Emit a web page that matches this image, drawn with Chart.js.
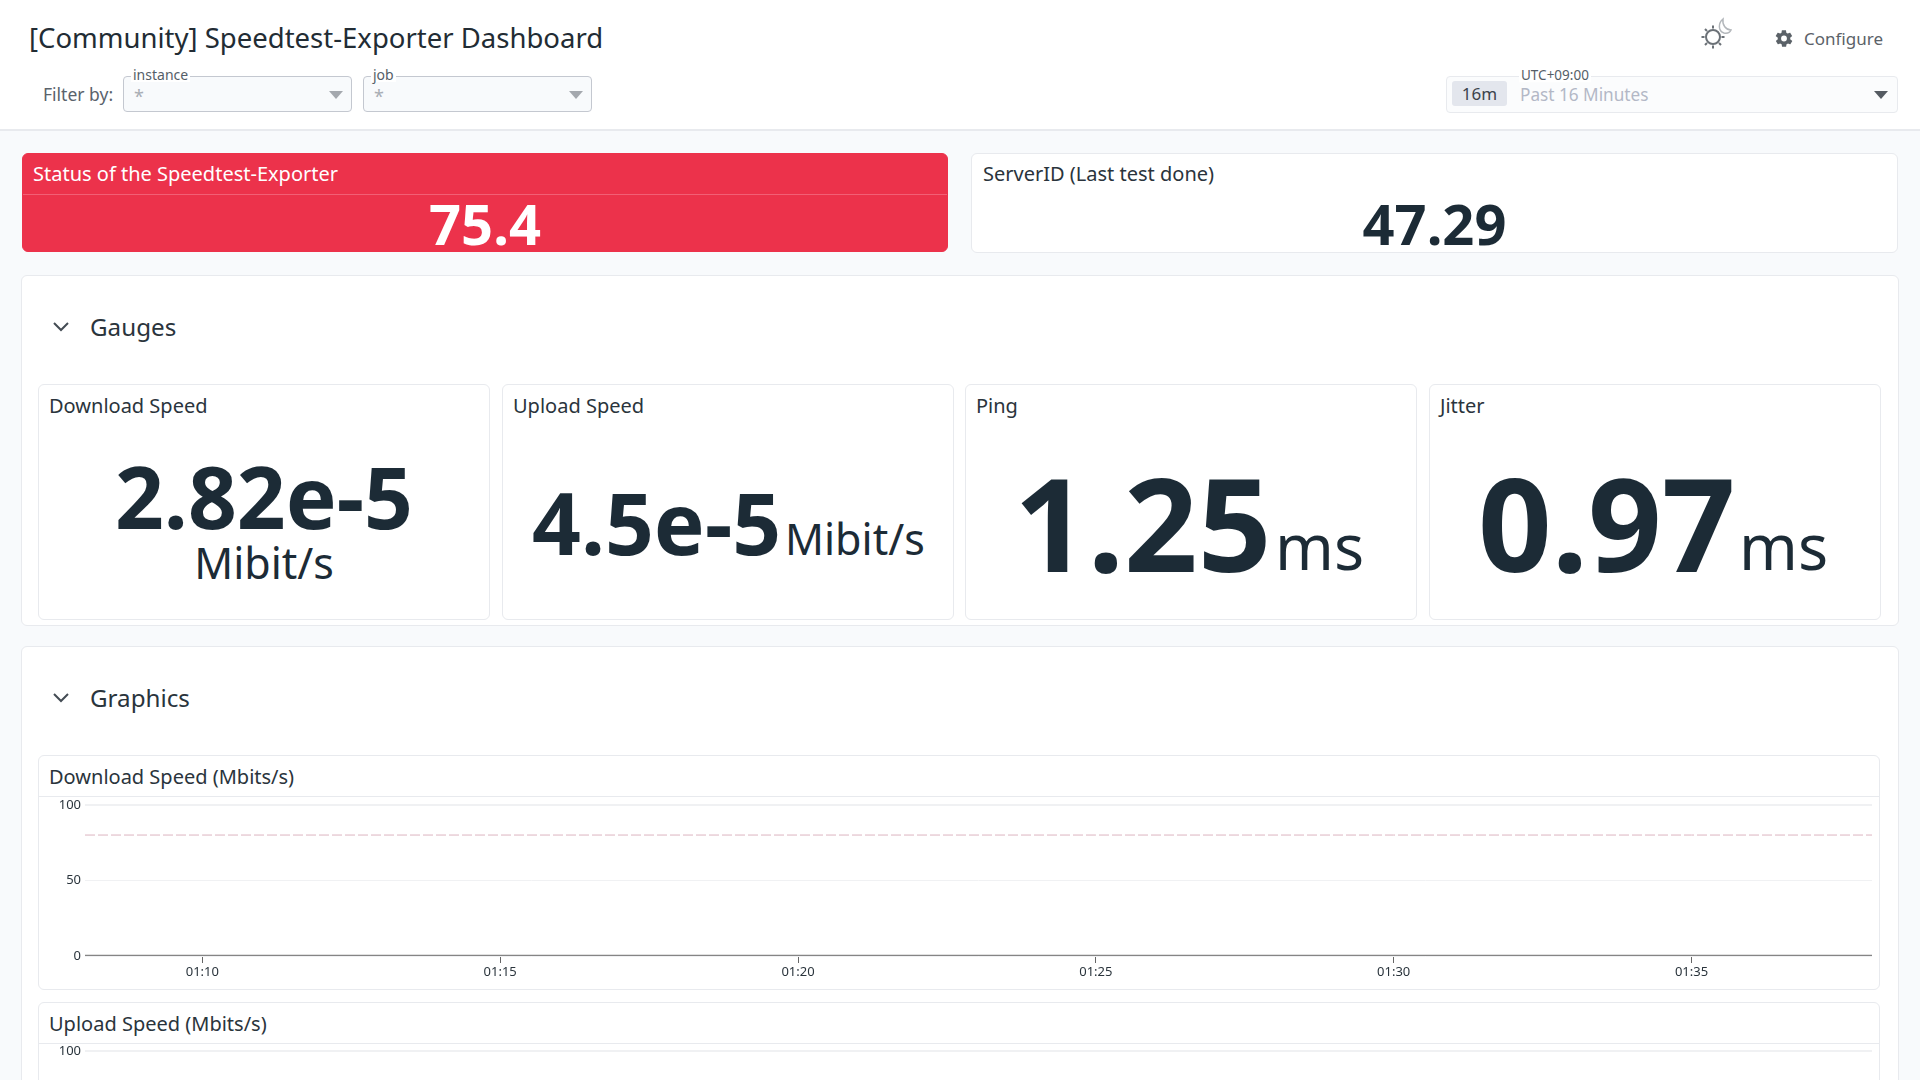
<!DOCTYPE html>
<html><head><meta charset="utf-8">
<script src="https://cdn.jsdelivr.net/npm/chart.js@4"></script>
<style>
*{box-sizing:border-box}
html,body{margin:0;padding:0;width:1920px;height:1080px;overflow:hidden;background:#f8fafc;font-family:"Noto Sans",sans-serif;color:#1c2b36}
.a{position:absolute;white-space:nowrap}
.c{transform:translateY(-50%);line-height:1}
.panel{position:absolute;background:#fff;border:1px solid #e8eaee;border-radius:6px}
.sel{position:absolute;border:1px solid #c4c8d0;border-radius:4px;background:#f8fafc}
.lab{background:#fff;padding:0 2px;font-size:14px;color:#555e68}
.caret{position:absolute;width:0;height:0;border-left:7px solid transparent;border-right:7px solid transparent;border-top:8px solid #a4a8ae}
.b{font-weight:700}
.ttl{font-size:20px;color:#2a343c}
.rule{position:absolute;height:1px;background:#e8eaee}
</style></head><body>
<div class="a" style="left:0;top:0;width:1920px;height:131px;background:#fff;border-bottom:2px solid #e8eaee"></div>
<div class="a c" id="title" style="left:29px;top:38px;font-size:27.500px;color:#222c34">[Community] Speedtest-Exporter Dashboard</div>
<div class="a c" style="left:43px;top:95px;font-size:17.500px;color:#5a636c">Filter by:</div>
<div class="sel" style="left:123px;top:76px;width:229px;height:36px"></div>
<div class="a c lab" style="left:131px;top:75px">instance</div>
<div class="a c" style="left:134px;top:96px;font-size:18px;color:#a8adb4">*</div>
<div class="caret" style="left:329px;top:91px"></div>
<div class="sel" style="left:363px;top:76px;width:229px;height:36px"></div>
<div class="a c lab" style="left:371px;top:75px">job</div>
<div class="a c" style="left:374px;top:96px;font-size:18px;color:#a8adb4">*</div>
<div class="caret" style="left:569px;top:91px"></div>

<svg class="a" style="left:1695px;top:15px" width="40" height="38" viewBox="0 0 40 38" fill="none" stroke="#6b7177" stroke-width="2">
<circle cx="18" cy="22" r="7"/><path d="M18 10.500v3M18 30.500v3M6.500 22h3M26.500 22h3M10 14l2 2M24 28l2 2M10 30l2-2"/>
<path d="M28 4C23 8 23 16 29 18C32 18.500 35 17.500 36 15C31 15 27 10 28 4z" stroke="#b3b7bb" stroke-width="1.500" fill="#fff"/></svg>
<svg class="a" style="left:1774px;top:28px" width="20" height="21" viewBox="0 0 24 24" fill="#5b6268"><path d="M19.400 13c.1-.3.100-.7.100-1s0-.7-.1-1l2.100-1.600c.2-.2.200-.4.100-.6l-2-3.500c-.1-.2-.4-.3-.6-.2l-2.500 1c-.5-.4-1.100-.7-1.700-1l-.4-2.600c0-.3-.2-.5-.5-.5h-4c-.3 0-.5.200-.5.500l-.4 2.600c-.6.300-1.200.6-1.700 1l-2.500-1c-.2-.1-.5 0-.6.200l-2 3.500c-.1.200-.1.400.1.600L4.600 11c-.1.300-.1.700-.1 1s0 .7.100 1l-2.100 1.600c-.2.200-.2.400-.1.600l2 3.500c.1.200.4.300.6.200l2.500-1c.5.400 1.100.7 1.700 1l.4 2.600c0 .3.200.5.500.5h4c.3 0 .5-.2.500-.5l.4-2.600c.6-.3 1.200-.6 1.700-1l2.500 1c.2.100.5 0 .6-.2l2-3.500c.1-.2.100-.4-.1-.6zM12 15.500a3.500 3.500 0 1 1 0-7 3.500 3.500 0 0 1 0 7z"/></svg>
<div class="a c" style="left:1804px;top:38px;font-size:17px;color:#5b6268">Configure</div>
<div class="sel" style="left:1446px;top:76px;width:452px;height:37px;background:#fbfcfd;border-color:#e8eaee"></div>
<div class="a c lab" style="left:1519px;top:75.500px;font-size:13.500px">UTC+09:00</div>
<div class="a" style="left:1452px;top:81px;width:55px;height:25px;background:#e3e6ed;border-radius:3px;text-align:center;font-size:17px;line-height:25px;color:#3c444c">16m</div>
<div class="a c" style="left:1520px;top:95px;font-size:17.200px;color:#b3b8c6">Past 16 Minutes</div>
<div class="caret" style="left:1874px;top:91px;border-top-color:#555b62"></div>

<div class="panel" style="left:22px;top:153px;width:926px;height:99px;background:#ec324b;border-color:#ec324b"></div>
<div class="rule" style="left:23px;top:194px;width:924px;background:#f25f75"></div>
<div class="a c" style="left:33px;top:174px;font-size:20px;color:#fff">Status of the Speedtest-Exporter</div>
<div class="a c b" style="left:22px;width:926px;text-align:center;top:223px;font-size:56px;color:#fff">75.4</div>
<div class="panel" style="left:971px;top:153px;width:927px;height:100px"></div>
<div class="a c" style="left:983px;top:174px;font-size:20px;color:#2a343c">ServerID (Last test done)</div>
<div class="a c b" style="left:971px;width:927px;text-align:center;top:223px;font-size:56px">47.29</div>

<div class="panel" style="left:21px;top:275px;width:1878px;height:351px"></div>
<svg class="a" style="left:52px;top:319px" width="18" height="16" viewBox="0 0 18 16" fill="none" stroke="#444c54" stroke-width="2"><path d="M2 4l7 7 7-7"/></svg>
<div class="a c" style="left:90px;top:327px;font-size:24.200px;color:#2a343c">Gauges</div>

<div class="panel" style="left:38px;top:384px;width:452px;height:236px"></div>
<div class="a c ttl" style="left:49px;top:406px">Download Speed</div>
<div class="a c b" style="left:38px;width:452px;text-align:center;top:497px;font-size:85.500px">2.82e-5</div>
<div class="a c" style="left:38px;width:452px;text-align:center;top:562px;font-size:43px">Mibit/s</div>

<div class="panel" style="left:502px;top:384px;width:452px;height:236px"></div>
<div class="a c ttl" style="left:513px;top:406px">Upload Speed</div>
<div class="a b" style="left:532px;top:462px;font-size:85.500px;line-height:120px">4.5e-5</div>
<div class="a" style="left:785px;top:509px;font-size:43px;line-height:60px">Mibit/s</div>

<div class="panel" style="left:965px;top:384px;width:452px;height:236px"></div>
<div class="a c ttl" style="left:976px;top:406px">Ping</div>
<div class="a b" style="left:1014px;top:437px;font-size:129px;line-height:170px">1.25</div>
<div class="a" style="left:1275px;top:503px;font-size:63px;line-height:85px">ms</div>

<div class="panel" style="left:1429px;top:384px;width:452px;height:236px"></div>
<div class="a c ttl" style="left:1440px;top:406px">Jitter</div>
<div class="a b" style="left:1478px;top:437px;font-size:129px;line-height:170px">0.97</div>
<div class="a" style="left:1739px;top:503px;font-size:63px;line-height:85px">ms</div>

<div class="panel" style="left:21px;top:646px;width:1878px;height:500px"></div>
<svg class="a" style="left:52px;top:690px" width="18" height="16" viewBox="0 0 18 16" fill="none" stroke="#444c54" stroke-width="2"><path d="M2 4l7 7 7-7"/></svg>
<div class="a c" style="left:90px;top:698px;font-size:24.200px;color:#2a343c">Graphics</div>

<div class="panel" style="left:38px;top:755px;width:1842px;height:235px"></div>
<div class="rule" style="left:39px;top:796px;width:1840px"></div>
<div class="a c ttl" style="left:49px;top:777px">Download Speed (Mbits/s)</div>
<canvas id="dl" class="a" width="1840" height="196" style="left:39px;top:793px"></canvas>

<div class="panel" style="left:38px;top:1002px;width:1842px;height:235px"></div>
<div class="rule" style="left:39px;top:1043px;width:1840px"></div>
<div class="a c ttl" style="left:49px;top:1024px">Upload Speed (Mbits/s)</div>
<canvas id="ul" class="a" width="1840" height="196" style="left:39px;top:1039px"></canvas>

<script>
const timeMinutes = [68.03, 70, 75, 80, 85, 90, 95, 98.03];
const downloadValues = [0, 0, 0, 0, 0, 0, 0, 0];
const thresholdValues = [80, 80, 80, 80, 80, 80, 80, 80];
const uploadValues = [0, 0, 0, 0, 0, 0, 0, 0];
const xTickValues = [70, 75, 80, 85, 90, 95];
const xTickLabels = ['01:10', '01:15', '01:20', '01:25', '01:30', '01:35'];
const yTickValues = [0, 50, 100];

function pts(v){ return v.map((y,i)=>({x:timeMinutes[i],y})); }
function make(id, series){
  return new Chart(document.getElementById(id),{
    type:'line',
    data:{datasets:series},
    options:{
      responsive:false,animation:false,
      layout:{padding:{top:2.500,right:7,bottom:0,left:0}},
      plugins:{legend:{display:false},tooltip:{enabled:false}},
      elements:{point:{radius:0}},
      scales:{
        x:{type:'linear',min:timeMinutes[0],max:timeMinutes[timeMinutes.length-1],
          afterBuildTicks:s=>{s.ticks=xTickValues.map(value=>({value}));},
          afterFit:s=>{s.height=33;},
          grid:{drawOnChartArea:false,drawTicks:true,tickLength:7,color:'#666'},
          border:{display:false},
          ticks:{autoSkip:false,maxRotation:0,padding:1,color:'#2a343c',font:{family:'"Noto Sans"',size:13},
            callback:v=>xTickLabels[xTickValues.indexOf(v)]}},
        y:{min:0,max:100,
          afterBuildTicks:s=>{s.ticks=yTickValues.map(value=>({value}));},
          afterFit:s=>{s.width=46;},
          grid:{color:'#f0f1f3',lineWidth:c=>c.tick.value===100?2:1,drawTicks:false},
          border:{display:false},
          ticks:{padding:4,color:'#2a343c',font:{family:'"Noto Sans"',size:13}}}
      }
    }
  });
}
make('dl',[
  {data:pts(thresholdValues),borderColor:'#dcb4c0',borderWidth:1,borderDash:[10,3]},
  {data:pts(downloadValues),borderColor:'#858585',borderWidth:2.500}
]);
make('ul',[
  {data:pts(uploadValues),borderColor:'#858585',borderWidth:2.500}
]);
</script>
</body></html>
